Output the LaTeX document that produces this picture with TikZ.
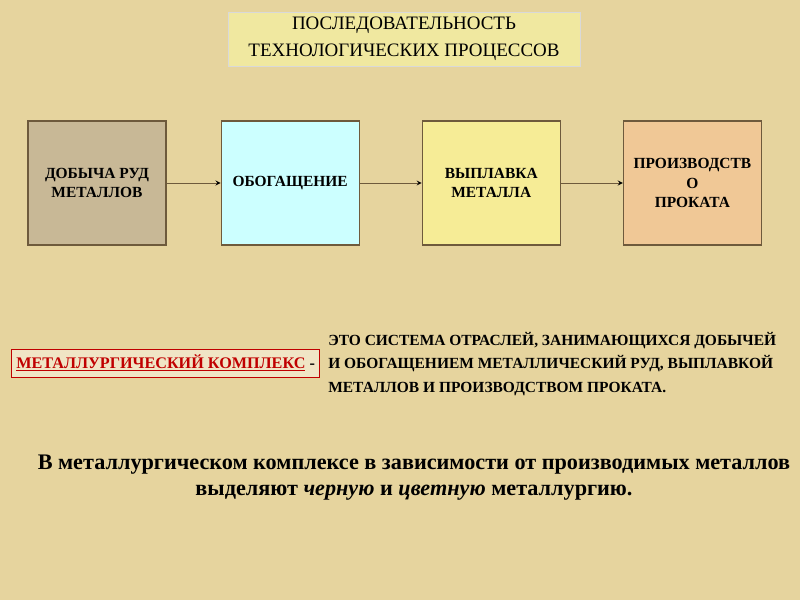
\documentclass[tikz,border=0pt]{standalone}
\usepackage{fontspec}
\setmainfont{Liberation Serif}
\usepackage{xcolor}
\usetikzlibrary{positioning,calc}

\definecolor{parch}{RGB}{230,212,158}
\definecolor{edgebrown}{RGB}{110,90,60}
\definecolor{stagegray}{RGB}{200,184,150}
\definecolor{stagecyan}{RGB}{204,255,255}
\definecolor{stageyellow}{RGB}{246,236,150}
\definecolor{stagepeach}{RGB}{240,200,150}
\definecolor{titlefill}{RGB}{240,232,160}
\definecolor{termred}{RGB}{192,0,0}

\begin{document}
\begin{tikzpicture}[auto,node distance=14mm,
	stage/.style={draw=edgebrown,thick,minimum width=3.45cm,minimum height=3.1cm,align=center,
		font=\fontsize{11}{13.5}\selectfont\bfseries,inner sep=2pt},
	flow/.style={->,draw=edgebrown,semithick,>=stealth}]
	\fill[parch] (0,0) rectangle (20,-15);
	\useasboundingbox (0,0) rectangle (20,-15);
	\node[fill=titlefill,draw=white!70!gray,minimum width=8.8cm,minimum height=1.35cm,align=center,
		font=\fontsize{13.5}{19}\selectfont] (title) at (10.1,-0.975)
		{ПОСЛЕДОВАТЕЛЬНОСТЬ\\ТЕХНОЛОГИЧЕСКИХ ПРОЦЕССОВ};
	\node[stage,fill=stagegray]                    (mining)   at (2.425,-4.575) {ДОБЫЧА РУД\\МЕТАЛЛОВ};
	\node[stage,fill=stagecyan,right=1.35cm of mining] (dressing) {ОБОГАЩЕНИЕ};
	\node[stage,fill=stageyellow,right=1.55cm of dressing] (smelting) {ВЫПЛАВКА\\МЕТАЛЛА};
	\node[stage,fill=stagepeach,right=1.55cm of smelting,font=\fontsize{11}{14}\selectfont\bfseries] (rolling)
		{ПРОИЗВОДСТВ\\О\\ПРОКАТА};
	\path[flow]
		(mining) edge (dressing)
		(dressing) edge (smelting)
		(smelting) edge (rolling)
	; %-path-%
	\node[draw=termred,fill=parch!60!white,minimum width=7.625cm,minimum height=0.7cm,
		font=\fontsize{11.5}{13}\selectfont\bfseries] (term) at (4.14,-9.075)
		{\textcolor{termred}{\underline{МЕТАЛЛУРГИЧЕСКИЙ КОМПЛЕКС}} -};
	\node[anchor=west,align=left,inner sep=0pt,font=\fontsize{11}{16.5}\selectfont\bfseries]
		(meaning) at (8.2,-9.1)
		{ЭТО СИСТЕМА ОТРАСЛЕЙ, ЗАНИМАЮЩИХСЯ ДОБЫЧЕЙ\\
		 И ОБОГАЩЕНИЕМ МЕТАЛЛИЧЕСКИЙ РУД, ВЫПЛАВКОЙ\\
		 МЕТАЛЛОВ И ПРОИЗВОДСТВОМ ПРОКАТА.};
	\node[align=center,font=\fontsize{15.8}{18.5}\selectfont\bfseries] (summary) at (10.35,-11.95)
		{В металлургическом комплексе в зависимости от производимых металлов\\
		 выделяют \textit{черную} и \textit{цветную} металлургию.};
\end{tikzpicture}
\end{document}
